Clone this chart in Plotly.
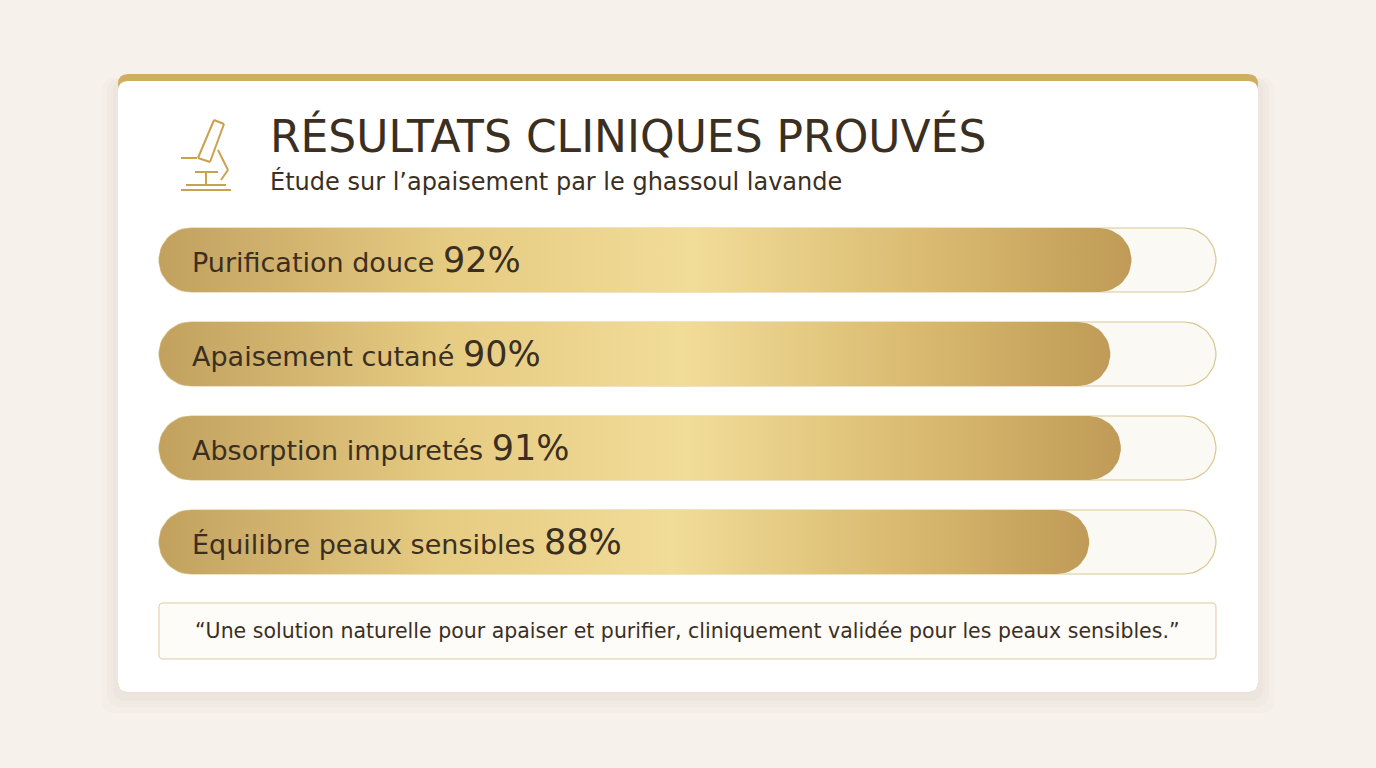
import numpy as np
import plotly.graph_objects as go

labels = ["Purification douce", "Apaisement cutané", "Absorption impuretés", "Équilibre peaux sensibles"]
values = [92, 90, 91, 88]
title = "RÉSULTATS CLINIQUES PROUVÉS"
subtitle = "Étude sur l’apaisement par le ghassoul lavande"
quote = "“Une solution naturelle pour apaiser et purifier, cliniquement validée pour les peaux sensibles.”"

W, H = 1376, 768
X0, X100 = 159, 1216  # pixel position of 0% and 100%
ppu = (X100 - X0) / 100
y_centers = [260, 354, 448, 542]
half = 32
FONT = "DejaVu Sans"
DARK = "#3b2f22"


def pill(v, yc, n=24):
    # rounded bar outline from 0 to v, in data units (x = %, y = px)
    r = half / ppu
    t = np.linspace(-np.pi / 2, np.pi / 2, n)
    xr = v - r + r * np.cos(t)
    yr = yc + half * np.sin(t)
    xl = r - r * np.cos(t[::-1])
    yl = yc + half * np.sin(t[::-1])
    xs = np.concatenate([xr, xl, xr[:1]])
    ys = np.concatenate([yr, yl, yr[:1]])
    return xs, ys


def rrect(x0, y0, x1, y1, r):
    # rounded rectangle path in paper coordinates, input pixels
    def p(x, y):
        return f"{x / W:.5f},{1 - y / H:.5f}"
    return (f"M{p(x0 + r, y0)} L{p(x1 - r, y0)} Q{p(x1, y0)} {p(x1, y0 + r)} "
            f"L{p(x1, y1 - r)} Q{p(x1, y1)} {p(x1 - r, y1)} L{p(x0 + r, y1)} "
            f"Q{p(x0, y1)} {p(x0, y1 - r)} L{p(x0, y0 + r)} Q{p(x0, y0)} {p(x0 + r, y0)} Z")


fig = go.Figure()

shapes = []
# card shadow
for i in range(4):
    d = 3 + i * 6
    shapes.append(dict(type="path", xref="paper", yref="paper", layer="below",
                       path=rrect(118 - d + 4, 74 + 4, 1258 + d - 4, 692 + d, 14),
                       fillcolor="rgba(90,70,40,0.018)", line_width=0))
shapes.append(dict(type="path", xref="paper", yref="paper", layer="below",
                   path=rrect(118, 74, 1258, 692, 10), fillcolor="#cfae62", line_width=0))
shapes.append(dict(type="path", xref="paper", yref="paper", layer="below",
                   path=rrect(118, 81, 1258, 692, 10), fillcolor="#ffffff", line_width=0))
# quote box
shapes.append(dict(type="path", xref="paper", yref="paper", layer="below",
                   path=rrect(159, 603, 1216, 659, 4), fillcolor="#fdfcf9",
                   line=dict(color="#dccb9f", width=1)))

# microscope icon
gold = "#c9a14f"
for x0, y0, x1, y1 in [(181, 190, 231, 190), (186, 185, 226, 185), (206, 185, 206, 172),
                       (195, 172, 218, 172), (198, 158, 214, 120), (214, 120, 224, 124),
                       (224, 124, 210, 162), (210, 162, 198, 158), (218, 150, 228, 170),
                       (228, 170, 221, 180), (181, 158, 197, 158)]:
    shapes.append(dict(type="line", xref="paper", yref="paper",
                       x0=x0 / W, y0=1 - y0 / H, x1=x1 / W, y1=1 - y1 / H,
                       line=dict(color=gold, width=2)))

gradient = [[0, "#c2a15f"], [0.3, "#e6cb82"], [0.55, "#f1dc98"], [0.8, "#d9b96f"], [1, "#bf9b57"]]

for lab, v, yc in zip(labels, values, y_centers):
    tx, ty = pill(100, yc)
    fig.add_trace(go.Scatter(x=tx, y=ty, fill="toself", fillcolor="#fbf9f4",
                             line=dict(color="#d9c794", width=1.2), mode="lines",
                             hoverinfo="skip", showlegend=False))
    bx, by = pill(v, yc)
    fig.add_trace(go.Scatter(x=bx, y=by, fill="toself",
                             fillgradient=dict(type="horizontal", colorscale=gradient),
                             line=dict(width=0), mode="lines", hoverinfo="skip", showlegend=False))
    fig.add_annotation(x=2.9, y=yc, xanchor="left", yanchor="middle", showarrow=False,
                       text=f"{lab} <span style='font-size:35px'>{v}%</span>",
                       font=dict(family=FONT, size=27, color=DARK))

fig.add_annotation(xref="paper", yref="paper", x=268 / W, y=1 - 136 / H, xanchor="left",
                   yanchor="middle", showarrow=False, text=title,
                   font=dict(family=FONT, size=44, color=DARK))
fig.add_annotation(xref="paper", yref="paper", x=268 / W, y=1 - 181 / H, xanchor="left",
                   yanchor="middle", showarrow=False, text=subtitle,
                   font=dict(family=FONT, size=24, color=DARK))
fig.add_annotation(xref="paper", yref="paper", x=(159 + 1216) / 2 / W, y=1 - 631 / H,
                   xanchor="center", yanchor="middle", showarrow=False, text=quote,
                   font=dict(family=FONT, size=20.5, color=DARK))

fig.update_layout(
    width=W, height=H, margin=dict(l=0, r=0, t=0, b=0),
    paper_bgcolor="#f6f2eb", plot_bgcolor="rgba(0,0,0,0)", shapes=shapes,
    xaxis=dict(range=[-X0 / ppu, (W - X0) / ppu], visible=False, fixedrange=True),
    yaxis=dict(range=[H, 0], visible=False, fixedrange=True),
)
fig.write_html("out.html", config={"displayModeBar": False},
               post_script="document.body.style.margin='0';")
